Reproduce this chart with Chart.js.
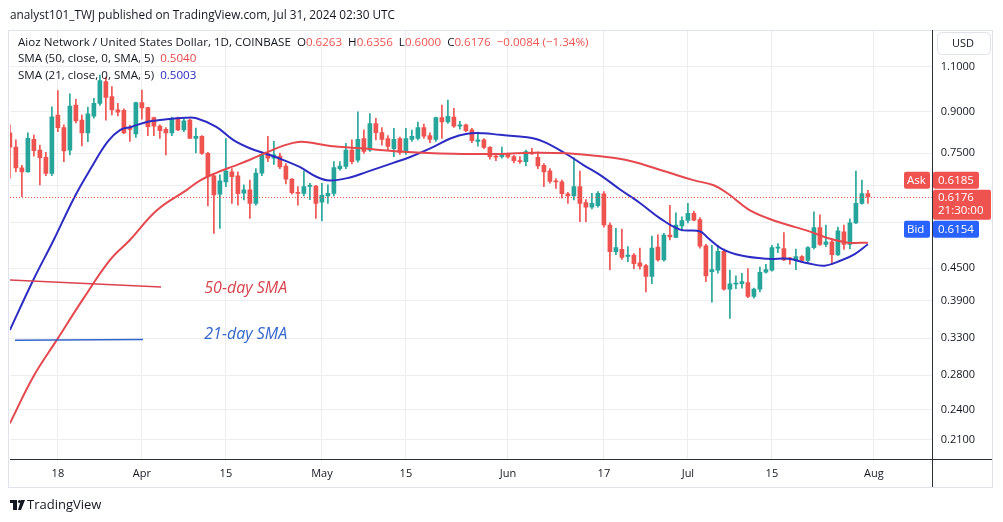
<!DOCTYPE html>
<html>
<head>
<meta charset="utf-8">
<script src="https://cdn.jsdelivr.net/npm/chart.js@4.4.1/dist/chart.umd.min.js"></script>
<style>
  html, body { margin: 0; padding: 0; background: #fff; }
</style>
</head>
<body>
<canvas id="chart" width="1003" height="522"></canvas>
<script>
// AIOZ / USD diário (Coinbase), 10 mar - 31 jul 2024
// eixo x em dias a partir de 1 de março (dia 0)
const firstDay = 9; // 10 mar

const opens = [
  0.820, 0.770, 0.702, 0.690, 0.797, 0.760, 0.736, 0.685, 0.888, 0.840, 0.760, 0.928, 0.868, 0.820, 0.883, 0.935, 1.030, 0.963, 0.908, 0.906, 0.837, 0.816,
  0.938, 0.918, 0.878, 0.845, 0.833, 0.820, 0.871, 0.831, 0.868, 0.800, 0.808, 0.749, 0.678, 0.625, 0.660, 0.690, 0.678, 0.628, 0.637, 0.600, 0.686, 0.747, 0.733, 0.740, 0.708, 0.668, 0.630, 0.627, 0.647, 0.648,
  0.603, 0.620, 0.627, 0.700, 0.707, 0.760, 0.727, 0.800, 0.760, 0.855, 0.821, 0.800, 0.765, 0.800, 0.752, 0.797, 0.800, 0.840, 0.810, 0.797, 0.878, 0.861, 0.880, 0.845, 0.850, 0.831, 0.790, 0.795, 0.769, 0.740, 0.738,
  0.748, 0.738, 0.725, 0.722, 0.752, 0.736, 0.710, 0.693, 0.662, 0.660, 0.626, 0.620, 0.646, 0.602, 0.590, 0.594, 0.626, 0.545, 0.484, 0.489, 0.474, 0.477, 0.461, 0.455, 0.434, 0.494, 0.467, 0.521, 0.516, 0.543,
  0.556, 0.574, 0.558, 0.497, 0.443, 0.446, 0.485, 0.410, 0.419, 0.420, 0.422, 0.397, 0.410, 0.442, 0.446, 0.492, 0.491, 0.471, 0.466, 0.474, 0.466, 0.493, 0.539, 0.500, 0.506, 0.477, 0.529, 0.500, 0.550, 0.600, 0.6263
];
const highs = [
  0.849, 0.795, 0.710, 0.820, 0.812, 0.777, 0.752, 0.921, 0.989, 0.850, 0.975, 0.952, 0.888, 0.920, 0.956, 1.060, 1.050, 1.007, 0.935, 0.912, 0.849, 0.940,
  0.992, 0.920, 0.880, 0.850, 0.840, 0.880, 0.880, 0.873, 0.872, 0.838, 0.810, 0.752, 0.680, 0.681, 0.800, 0.700, 0.690, 0.651, 0.665, 0.700, 0.750, 0.808, 0.790, 0.750, 0.716, 0.670, 0.646, 0.692, 0.656, 0.650,
  0.656, 0.651, 0.722, 0.722, 0.783, 0.795, 0.900, 0.831, 0.893, 0.875, 0.840, 0.810, 0.837, 0.805, 0.837, 0.830, 0.860, 0.853, 0.820, 0.880, 0.928, 0.949, 0.915, 0.863, 0.853, 0.837, 0.821, 0.800, 0.772, 0.749, 0.770,
  0.750, 0.742, 0.738, 0.760, 0.766, 0.754, 0.716, 0.700, 0.670, 0.665, 0.630, 0.735, 0.692, 0.610, 0.627, 0.632, 0.632, 0.550, 0.537, 0.535, 0.495, 0.480, 0.492, 0.458, 0.519, 0.522, 0.525, 0.595, 0.575, 0.565,
  0.600, 0.580, 0.563, 0.500, 0.498, 0.498, 0.490, 0.446, 0.435, 0.440, 0.449, 0.412, 0.452, 0.458, 0.498, 0.502, 0.527, 0.472, 0.490, 0.476, 0.495, 0.578, 0.570, 0.545, 0.510, 0.540, 0.545, 0.560, 0.692, 0.665, 0.6356
];
const lows = [
  0.671, 0.690, 0.618, 0.689, 0.740, 0.651, 0.678, 0.678, 0.825, 0.722, 0.744, 0.857, 0.774, 0.789, 0.875, 0.926, 0.868, 0.888, 0.884, 0.817, 0.790, 0.804,
  0.872, 0.810, 0.810, 0.800, 0.744, 0.810, 0.828, 0.825, 0.800, 0.750, 0.745, 0.593, 0.525, 0.537, 0.646, 0.600, 0.595, 0.609, 0.561, 0.595, 0.678, 0.722, 0.713, 0.700, 0.654, 0.625, 0.595, 0.620, 0.610, 0.561,
  0.555, 0.600, 0.620, 0.695, 0.700, 0.715, 0.720, 0.749, 0.755, 0.795, 0.777, 0.760, 0.738, 0.745, 0.745, 0.790, 0.795, 0.800, 0.785, 0.790, 0.800, 0.855, 0.840, 0.834, 0.825, 0.785, 0.773, 0.765, 0.730, 0.725, 0.733,
  0.733, 0.718, 0.716, 0.708, 0.745, 0.700, 0.646, 0.656, 0.641, 0.614, 0.600, 0.609, 0.553, 0.553, 0.585, 0.590, 0.540, 0.447, 0.478, 0.468, 0.463, 0.449, 0.448, 0.405, 0.420, 0.464, 0.464, 0.510, 0.515, 0.531,
  0.550, 0.555, 0.492, 0.424, 0.387, 0.440, 0.408, 0.360, 0.411, 0.412, 0.395, 0.394, 0.405, 0.440, 0.444, 0.482, 0.465, 0.458, 0.447, 0.462, 0.460, 0.490, 0.498, 0.495, 0.458, 0.476, 0.489, 0.490, 0.548, 0.598, 0.6000
];
const closes = [
  0.770, 0.702, 0.690, 0.801, 0.758, 0.735, 0.685, 0.881, 0.839, 0.757, 0.924, 0.865, 0.820, 0.892, 0.935, 1.034, 0.960, 0.908, 0.899, 0.820, 0.833, 0.938,
  0.916, 0.843, 0.845, 0.828, 0.820, 0.875, 0.831, 0.865, 0.800, 0.808, 0.749, 0.675, 0.623, 0.663, 0.692, 0.675, 0.626, 0.637, 0.600, 0.686, 0.746, 0.733, 0.744, 0.705, 0.668, 0.629, 0.627, 0.646, 0.648, 0.600,
  0.622, 0.627, 0.703, 0.708, 0.760, 0.722, 0.797, 0.755, 0.855, 0.821, 0.797, 0.772, 0.797, 0.752, 0.800, 0.808, 0.840, 0.808, 0.797, 0.878, 0.861, 0.883, 0.845, 0.850, 0.828, 0.792, 0.795, 0.769, 0.738, 0.736, 0.749,
  0.737, 0.725, 0.722, 0.755, 0.747, 0.708, 0.690, 0.661, 0.660, 0.626, 0.620, 0.646, 0.600, 0.590, 0.600, 0.627, 0.545, 0.484, 0.493, 0.472, 0.477, 0.459, 0.454, 0.434, 0.492, 0.467, 0.521, 0.517, 0.545, 0.556,
  0.574, 0.557, 0.496, 0.435, 0.447, 0.485, 0.410, 0.420, 0.421, 0.424, 0.397, 0.410, 0.442, 0.447, 0.493, 0.493, 0.467, 0.469, 0.474, 0.466, 0.493, 0.539, 0.500, 0.506, 0.478, 0.531, 0.500, 0.550, 0.600, 0.6263, 0.6176
];

// médias móveis (dia, valor)
const sma50Days = [9.0, 12.9, 16.8, 21.3, 25.7, 29.0, 33.5, 38.5, 40.6, 43.4, 46.2, 49.0, 51.8, 54.6, 57.0, 59.0, 62.4, 67.5, 74.0, 79.6, 85.2, 90.7, 96.3, 101.8, 107.4, 112.4, 118.4, 122.9, 126.3, 128.7, 132.0, 135.4, 138.7, 142.0, 145.4, 148.7, 152.0];
const sma50 = [0.226, 0.278, 0.327, 0.394, 0.467, 0.510, 0.582, 0.637, 0.663, 0.687, 0.707, 0.728, 0.752, 0.775, 0.788, 0.786, 0.774, 0.766, 0.755, 0.749, 0.747, 0.747, 0.751, 0.749, 0.739, 0.724, 0.690, 0.665, 0.650, 0.626, 0.585, 0.561, 0.545, 0.531, 0.514, 0.504, 0.5040];
const sma21Days = [9.0, 12.9, 16.3, 19.8, 22.6, 25.3, 27.4, 29.2, 32.0, 34.0, 38.2, 40.1, 43.4, 46.2, 49.0, 51.8, 54.6, 57.3, 60.1, 62.3, 65.7, 68.5, 72.9, 75.7, 79.6, 82.4, 85.2, 87.9, 90.7, 95.2, 97.9, 101.8, 104.6, 107.4, 110.7, 114.0, 117.3, 120.7, 124.0, 125.3, 127.6, 130.9, 135.3, 138.7, 142.0, 144.8, 147.6, 149.8, 152.0];
const sma21 = [0.342, 0.427, 0.510, 0.618, 0.704, 0.789, 0.831, 0.842, 0.862, 0.868, 0.877, 0.875, 0.842, 0.795, 0.766, 0.747, 0.727, 0.705, 0.675, 0.664, 0.673, 0.690, 0.718, 0.737, 0.771, 0.800, 0.817, 0.819, 0.813, 0.804, 0.789, 0.746, 0.711, 0.680, 0.638, 0.601, 0.562, 0.534, 0.530, 0.515, 0.491, 0.476, 0.469, 0.469, 0.460, 0.455, 0.466, 0.479, 0.5003];

// traços à mão do autor
const note50Days = [9.0, 34.2];
const note50Vals = [0.427, 0.414];
const note21Days = [9.85, 31.2];
const note21Vals = [0.327, 0.328];

// eixos
const dateTickDays = [17, 31, 45, 61, 75, 92, 108, 122, 136, 153];
const dateTickLabels = ['18', 'Apr', '15', 'May', '15', 'Jun', '17', 'Jul', '15', 'Aug'];
const priceTicks = [1.1, 0.9, 0.75, 0.65, 0.55, 0.45, 0.39, 0.33, 0.28, 0.24, 0.21];
const hiddenPriceLabels = [0.65, 0.55];

const askPrice = 0.6185;
const bidPrice = 0.6154;
const lastPrice = 0.6176;

const UP = '#26a69a';
const DOWN = '#ef5350';
const FONT = '"Open Sans", "Noto Sans", sans-serif';

const candleDays = opens.map((_, i) => firstDay + i);
const candleColors = opens.map((o, i) => closes[i] >= o ? UP : DOWN);

const extras = {
  id: 'extras',
  beforeDraw(chart) {
    const c = chart.ctx;
    c.save();
    c.fillStyle = '#ffffff';
    c.fillRect(0, 0, chart.width, chart.height);
    c.restore();
  },
  afterDraw(chart) {
    const c = chart.ctx;
    const xs = chart.scales.x, ys = chart.scales.y;
    const area = chart.chartArea;
    c.save();

    // moldura
    c.strokeStyle = '#e0e3eb';
    c.lineWidth = 1;
    c.strokeRect(8.5, 30.5, 984, 457);
    c.strokeStyle = '#2a2e39';
    c.beginPath();
    c.moveTo(Math.round(area.right) + 0.5, 30);
    c.lineTo(Math.round(area.right) + 0.5, 487);
    c.moveTo(area.left, Math.round(area.bottom) + 0.5);
    c.lineTo(992, Math.round(area.bottom) + 0.5);
    c.stroke();

    // linha do último preço
    const yl = ys.getPixelForValue(lastPrice);
    c.strokeStyle = DOWN;
    c.setLineDash([1, 2]);
    c.beginPath();
    c.moveTo(area.left, Math.round(yl) + 0.5);
    c.lineTo(area.right, Math.round(yl) + 0.5);
    c.stroke();
    c.setLineDash([]);

    // cabeçalho
    c.textBaseline = 'middle';
    c.textAlign = 'left';
    c.fillStyle = '#131722';
    c.font = '11.8px ' + FONT;
    c.fillText('analyst101_TWJ published on TradingView.com, Jul 31, 2024 02:30 UTC', 10, 16);

    const seq = (parts, x, y) => {
      parts.forEach(([t, col]) => {
        c.fillStyle = col;
        c.fillText(t, x, y);
        x += c.measureText(t).width;
      });
    };
    c.font = '11.6px ' + FONT;
    const dark = '#131722';
    seq([['Aioz Network / United States Dollar, 1D, COINBASE  ', dark], ['O', dark], ['0.6263  ', DOWN],
         ['H', dark], ['0.6356  ', DOWN], ['L', dark], ['0.6000  ', DOWN], ['C', dark], ['0.6176  ', DOWN],
         ['\u22120.0084 (\u22121.34%)', DOWN]], 18, 43);
    seq([['SMA (50, close, 0, SMA, 5)  ', dark], ['0.5040', '#e5484d']], 18, 59);
    seq([['SMA (21, close, 0, SMA, 5)  ', dark], ['0.5003', '#2c2cc4']], 18, 76);

    // anotações
    c.font = 'italic 16px ' + FONT;
    c.fillStyle = '#d9434e';
    c.fillText('50-day SMA', xs.getPixelForValue(41.4), ys.getPixelForValue(0.412));
    c.fillStyle = '#3366cc';
    c.fillText('21-day SMA', xs.getPixelForValue(41.4), ys.getPixelForValue(0.336));

    // caixa USD
    c.strokeStyle = '#e0e3eb';
    c.beginPath();
    c.roundRect(937.5, 32.5, 53, 22, 4);
    c.stroke();
    c.fillStyle = '#131722';
    c.font = '11px ' + FONT;
    c.textAlign = 'center';
    c.fillText('USD', 963, 44);

    // etiquetas de preço
    const tag = (x, y, w, h, col) => {
      c.fillStyle = col;
      c.beginPath();
      c.roundRect(x, y, w, h, 2);
      c.fill();
    };
    c.font = '11.5px ' + FONT;
    c.textAlign = 'left';
    tag(904, yl - 25, 26, 17, DOWN);
    tag(933, yl - 25, 46, 17, DOWN);
    tag(933, yl - 7, 58, 30, DOWN);
    tag(904, yl + 24, 26, 17, '#2962ff');
    tag(933, yl + 24, 46, 17, '#2962ff');
    c.fillStyle = '#ffffff';
    c.fillText('Ask', 907, yl - 16.5);
    c.fillText(askPrice.toFixed(4), 938, yl - 16.5);
    c.fillText(lastPrice.toFixed(4), 938, yl + 0.5);
    c.fillText('21:30:00', 938, yl + 14);
    c.fillText('Bid', 907, yl + 32.5);
    c.fillText(bidPrice.toFixed(4), 938, yl + 32.5);

    // logotipo
    c.fillStyle = '#131722';
    c.fillRect(10, 500, 7, 3);
    c.fillRect(13, 500, 4, 10);
    c.beginPath();
    c.arc(19.5, 501.5, 1.6, 0, Math.PI * 2);
    c.fill();
    c.beginPath();
    c.moveTo(21, 500); c.lineTo(25, 500); c.lineTo(21, 510); c.lineTo(18, 510);
    c.closePath();
    c.fill();
    c.font = '13px ' + FONT;
    c.fillText('TradingView', 27, 505);

    c.restore();
  }
};

new Chart(document.getElementById('chart'), {
  type: 'bar',
  data: {
    datasets: [
      {
        type: 'line', label: 'nota50', order: 0,
        data: note50Days.map((d, i) => ({ x: d, y: note50Vals[i] })),
        borderColor: '#d9434e', borderWidth: 1.5, pointRadius: 0
      },
      {
        type: 'line', label: 'nota21', order: 0,
        data: note21Days.map((d, i) => ({ x: d, y: note21Vals[i] })),
        borderColor: '#3366cc', borderWidth: 1.5, pointRadius: 0
      },
      {
        type: 'line', label: 'SMA 50', order: 1,
        data: sma50Days.map((d, i) => ({ x: d, y: sma50[i] })),
        borderColor: '#e5484d', borderWidth: 2, pointRadius: 0, tension: 0.4
      },
      {
        type: 'line', label: 'SMA 21', order: 1,
        data: sma21Days.map((d, i) => ({ x: d, y: sma21[i] })),
        borderColor: '#2c2cc4', borderWidth: 2, pointRadius: 0, tension: 0.4
      },
      {
        label: 'corpo', order: 2, grouped: false,
        data: candleDays.map((d, i) => ({ x: d, y: [opens[i], closes[i]] })),
        backgroundColor: candleColors, barThickness: 4, minBarLength: 1
      },
      {
        label: 'pavio', order: 3, grouped: false,
        data: candleDays.map((d, i) => ({ x: d, y: [lows[i], highs[i]] })),
        backgroundColor: candleColors, barThickness: 1
      }
    ]
  },
  options: {
    responsive: false,
    animation: false,
    devicePixelRatio: 1,
    layout: { padding: { left: 10, top: 31, right: 0, bottom: 36 } },
    plugins: { legend: { display: false }, tooltip: { enabled: false } },
    scales: {
      x: {
        type: 'linear', min: 9.02, max: 162.63, offset: false,
        grid: { color: '#eceef2', offset: false, drawTicks: false },
        border: { display: false },
        afterBuildTicks: s => { s.ticks = dateTickDays.map(v => ({ value: v })); },
        afterFit: s => { s.height = 27; },
        ticks: {
          autoSkip: false, maxRotation: 0, padding: 8,
          color: '#131722', font: { family: FONT, size: 11 },
          callback: v => dateTickLabels[dateTickDays.indexOf(v)]
        }
      },
      y: {
        type: 'logarithmic', position: 'right', min: 0.1930, max: 1.2888,
        grid: { color: '#eceef2', drawTicks: false },
        border: { display: false },
        afterBuildTicks: s => { s.ticks = priceTicks.map(v => ({ value: v })); },
        afterFit: s => { s.width = 71.3; },
        ticks: {
          padding: 9, color: '#131722', font: { family: FONT, size: 11 },
          callback: v => hiddenPriceLabels.includes(v) ? '' : v.toFixed(4)
        }
      }
    }
  },
  plugins: [extras]
});
</script>
</body>
</html>
